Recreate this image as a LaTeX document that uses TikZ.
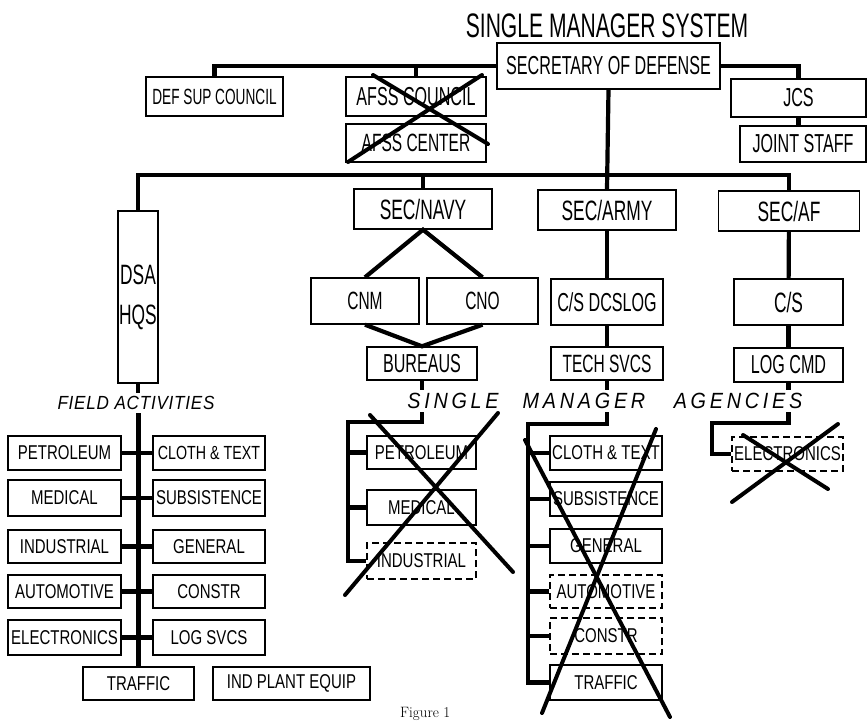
\documentclass[tikz,border=0pt]{standalone}
\usepackage{fontspec}
\newfontfamily\headfont[FakeStretch=0.62]{Liberation Sans}
\newfontfamily\fieldfont[FakeStretch=0.75]{Liberation Sans}
\newfontfamily\fieldlabelfont[FakeStretch=0.9,LetterSpace=4]{Liberation Sans}
\newfontfamily\agencyfont[FakeStretch=0.9,LetterSpace=17]{Liberation Sans}

\begin{document}
\begin{tikzpicture}[x=1pt, y=-1pt,
  headbox/.style={draw, line width=1.4pt, inner sep=0pt, font=\headfont\fontsize{26}{30}\selectfont},
  headsize/.style={font=\headfont\fontsize{#1}{#1}\selectfont},
  fieldbox/.style={draw, line width=1.4pt, inner sep=0pt, minimum height=34pt, font=\fieldfont\fontsize{20}{24}\selectfont},
  gone/.style={dash pattern=on 7pt off 4pt},
  link/.style={draw, line width=4.2pt},
  strike/.style={draw, line width=4pt, line cap=round},
  agency/.style={font=\agencyfont\itshape\fontsize{22}{24}\selectfont}]

\useasboundingbox (0,0) rectangle (868,721);

\node[font=\headfont\fontsize{34}{40}\selectfont] (title) at (607,26) {SINGLE MANAGER SYSTEM};

\node[headbox, minimum width=223pt, minimum height=46pt] (secdef) at (608.5,66) {SECRETARY OF DEFENSE};
\node[headbox, headsize=22, minimum width=137pt, minimum height=39pt] (defsup) at (214.5,96.5) {DEF SUP COUNCIL};
\node[headbox, minimum width=140pt, minimum height=39pt] (afsscouncil) at (416,96.5) {AFSS COUNCIL};
\node[headbox, headsize=25, minimum width=140pt, minimum height=38pt] (afsscenter) at (416,143) {AFSS CENTER};
\node[headbox, minimum width=135pt, minimum height=38pt] (jcs) at (798.5,98) {JCS};
\node[headbox, minimum width=126pt, minimum height=36pt] (jointstaff) at (803,144) {JOINT STAFF};

\node[headbox, headsize=28, minimum width=138pt, minimum height=40pt] (secnavy) at (423,209) {SEC/NAVY};
\node[headbox, headsize=28, minimum width=138pt, minimum height=40pt] (secarmy) at (607,210) {SEC/ARMY};
\node[headbox, headsize=28, minimum width=141pt, minimum height=40pt] (secaf) at (789,211) {SEC/AF};

\node[headbox, font=\headfont\fontsize{28}{40}\selectfont, align=center, minimum width=40pt, minimum height=172pt] (dsa) at (138,297) {DSA\\HQS};

\node[headbox, headsize=25, minimum width=108pt, minimum height=46pt] (cnm) at (365,301) {CNM};
\node[headbox, headsize=25, minimum width=111pt, minimum height=46pt] (cno) at (482.5,301) {CNO};
\node[headbox, minimum width=110pt, minimum height=33pt] (bureaus) at (422,363.5) {BUREAUS};
\node[headbox, minimum width=112pt, minimum height=46pt] (csdcslog) at (607,302) {C/S DCSLOG};
\node[headbox, headsize=25, minimum width=112pt, minimum height=33pt] (techsvcs) at (607,363.5) {TECH SVCS};
\node[headbox, headsize=28, minimum width=109pt, minimum height=46pt] (csaf) at (788.5,302) {C/S};
\node[headbox, minimum width=109pt, minimum height=34pt] (logcmd) at (788.5,365) {LOG CMD};

\node[font=\fieldlabelfont\itshape\fontsize{19}{22}\selectfont] (fieldlbl) at (136,403) {FIELD ACTIVITIES};
\node[agency] (single) at (453,401) {SINGLE};
\node[agency] (manager) at (584,401) {MANAGER};
\node[agency] (agencies) at (738,401) {AGENCIES};

% field activities
\node[fieldbox, minimum width=113pt] (fpetrol) at (64.5,453) {PETROLEUM};
\node[fieldbox, minimum width=112pt, font=\fieldfont\fontsize{19}{22}\selectfont] (fcloth) at (209,453) {CLOTH \& TEXT};
\node[fieldbox, minimum width=113pt, minimum height=36pt] (fmedical) at (64.5,498) {MEDICAL};
\node[fieldbox, minimum width=112pt, minimum height=36pt] (fsubs) at (209,498) {SUBSISTENCE};
\node[fieldbox, minimum width=113pt, minimum height=33pt] (findus) at (64.5,546.5) {INDUSTRIAL};
\node[fieldbox, minimum width=112pt, minimum height=33pt] (fgeneral) at (209,546.5) {GENERAL};
\node[fieldbox, minimum width=113pt, minimum height=33pt] (fauto) at (64.5,591.5) {AUTOMOTIVE};
\node[fieldbox, minimum width=112pt, minimum height=33pt] (fconstr) at (209,591.5) {CONSTR};
\node[fieldbox, minimum width=113pt, minimum height=35pt] (felec) at (64.5,637.5) {ELECTRONICS};
\node[fieldbox, minimum width=112pt, minimum height=35pt] (flogsvcs) at (209,637.5) {LOG SVCS};
\node[fieldbox, minimum width=111pt, minimum height=33pt] (ftraffic) at (138.5,683.5) {TRAFFIC};
\node[fieldbox, minimum width=157pt, minimum height=33pt] (findplant) at (291.5,683.5) {IND PLANT EQUIP};

% single managers
\node[fieldbox, minimum width=109pt, minimum height=33pt] (npetrol) at (421.5,452.5) {PETROLEUM};
\node[fieldbox, minimum width=109pt, minimum height=35pt] (nmedical) at (421.5,507.5) {MEDICAL};
\node[fieldbox, gone, minimum width=109pt, minimum height=36pt] (nindus) at (421.5,561) {INDUSTRIAL};

\node[fieldbox, minimum width=112pt] (acloth) at (606,453) {CLOTH \& TEXT};
\node[fieldbox, minimum width=112pt] (asubs) at (606,499) {SUBSISTENCE};
\node[fieldbox, minimum width=112pt] (ageneral) at (606,546) {GENERAL};
\node[fieldbox, gone, minimum width=112pt, minimum height=33pt] (aauto) at (606,591.5) {AUTOMOTIVE};
\node[fieldbox, gone, minimum width=112pt, minimum height=36pt] (aconstr) at (606,636) {CONSTR};
\node[fieldbox, minimum width=112pt, minimum height=35pt] (atraffic) at (606,682.5) {TRAFFIC};

\node[fieldbox, gone, minimum width=111pt] (afelec) at (787.5,454) {ELECTRONICS};

\node[font=\rmfamily\fontsize{15}{17}\selectfont, anchor=north west, inner sep=0pt] (caption) at (400,707) {Figure 1};

% top
\draw[link] (secdef.west) -| (defsup.north);
\draw[link] (afsscouncil.north) -- (afsscouncil.north |- secdef.west);
\draw[link] (secdef.east) -| (jcs.north);
\draw[link] (jcs.south) -- (jcs.south |- jointstaff.north);

\coordinate (hbar) at (0,175);
\draw[link] (secdef.south) -- (secarmy.north);
\draw[link] (dsa.north) |- (hbar -| secaf.north) -- (secaf.north);
\draw[link] (secnavy.north) -- (secnavy.north |- hbar);

\draw[link] (cnm.north) -- (secnavy.south) -- (cno.north);
\draw[link] (cnm.south) -- (bureaus.north) -- (cno.south);
\path (secarmy) edge[link] (csdcslog);
\path (csdcslog) edge[link] (techsvcs);
\path (secaf) edge[link] (csaf);
\path (csaf) edge[link] (logcmd);

\draw[link] (dsa.south) -- (dsa.south |- fieldlbl.north);
\draw[link] (ftraffic.north) -- (ftraffic.north |- fieldlbl.south);
\path (fpetrol) edge[link] (fcloth);
\path (fmedical) edge[link] (fsubs);
\path (findus) edge[link] (fgeneral);
\path (fauto) edge[link] (fconstr);
\path (felec) edge[link] (flogsvcs);

\draw[link] (bureaus.south) -- (bureaus.south |- single.north);
\draw[link] (techsvcs.south) -- (techsvcs.south |- manager.north);
\draw[link] (logcmd.south) -- (logcmd.south |- agencies.north);

\coordinate (navybus) at (348,422);
\draw[link] (bureaus.south |- single.south) |- (navybus) |- (nindus.west);
\draw[link] (npetrol.west) -- (npetrol.west -| navybus);
\draw[link] (nmedical.west) -- (nmedical.west -| navybus);

\coordinate (armybus) at (528,424);
\draw[link] (techsvcs.south |- manager.south) |- (armybus) |- (atraffic.west);
\draw[link] (acloth.west) -- (acloth.west -| armybus);
\draw[link] (asubs.west) -- (asubs.west -| armybus);
\draw[link] (ageneral.west) -- (ageneral.west -| armybus);
\draw[link] (aauto.west) -- (aauto.west -| armybus);
\draw[link] (aconstr.west) -- (aconstr.west -| armybus);

\coordinate (afbus) at (712,423);
\draw[link] (logcmd.south |- agencies.south) |- (afbus) |- (afelec.west);

% crossed out
\draw[strike] (373,75) -- (488,144);
\draw[strike] (348,162) -- (482,75);
\draw[strike] (370,415) -- (513,572);
\draw[strike] (345,595) -- (498,413);
\draw[strike] (525,440) -- (670,717);
\draw[strike] (542,713) -- (656,429);
\draw[strike] (743,435) -- (828,489);
\draw[strike] (732,502) -- (838,424);

\end{tikzpicture}
\end{document}
